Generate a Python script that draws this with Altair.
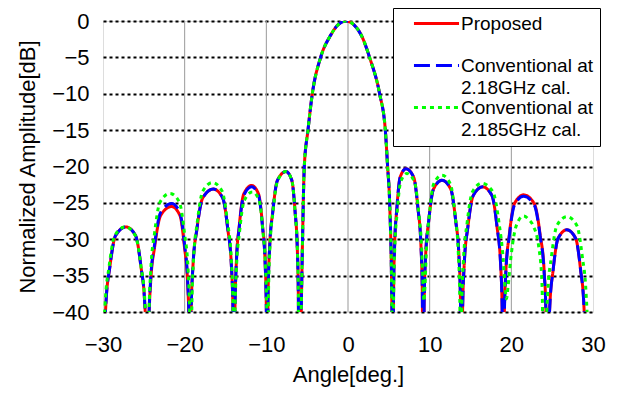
import altair as alt
import pandas as pd

# ---- data ----
series_names = ["Proposed", "Conventional at|2.18GHz cal.", "Conventional at|2.185GHz cal."]
series_colors = ["#FF0000", "#0000FF", "#00FF00"]

# angles shared by "Proposed" and "Conventional at 2.18GHz cal."
angles_a = [
    -30.0, -29.86, -29.64, -29.16, -28.46, -27.2, -26.01, -25.35, -24.89, -24.68,
    -24.55, -24.40, -24.17, -23.67, -22.93, -21.6, -20.59, -20.03, -19.64, -19.46,
    -19.35, -19.21, -18.98, -18.5, -17.78, -16.5, -15.35, -14.72, -14.28, -14.08,
    -13.95, -13.84, -13.67, -13.31, -12.77, -11.8, -10.95, -10.47, -10.15, -10.0,
    -9.9, -9.79, -9.6, -9.21, -8.64, -7.6, -6.88, -6.48, -6.21, -6.08,
    -6.0, -5.8, -5.6, -5.35, -4.9, -4.37, -3.35, -2.15, -1.2, -0.25,
    0.7, 1.65, 2.64, 3.87, 4.57, 4.85, 5.1, 5.38,
    5.5, 5.58, 5.71, 5.98, 6.38, 7.1, 8.05, 8.57, 8.93, 9.1,
    9.2, 9.32, 9.5, 9.89, 10.47, 11.5, 12.58, 13.18, 13.59, 13.78,
    13.9, 14.03, 14.24, 14.68, 15.33, 16.5, 17.63, 18.25, 18.68, 18.88,
    19.0, 19.13, 19.33, 19.75, 20.38, 21.5, 22.81, 23.53, 24.02, 24.26,
    24.4, 24.52, 24.71, 25.12, 25.72, 26.8, 27.88, 28.48, 28.89, 29.08,
    29.2,
]

amp_proposed = [
    -60, -45.3, -38.8, -33.8, -29.5, -28.3, -29.5, -33.8, -38.8, -45.3,
    -60, -42.5, -36.0, -31.0, -26.7, -25.5, -26.7, -31.0, -36.0, -42.5,
    -60, -40.1, -33.6, -28.6, -24.3, -23.1, -24.3, -28.6, -33.6, -40.1,
    -60, -39.6, -33.1, -28.1, -23.8, -22.6, -23.8, -28.1, -33.1, -39.6,
    -60, -37.7, -31.2, -26.2, -21.9, -20.7, -21.9, -26.2, -31.2, -37.7,
    -60, -45, -32, -20, -15, -10, -5, -2, -0.5, 0,
    -0.5, -2, -5, -10, -15, -20, -25, -40,
    -60, -37.3, -30.8, -25.8, -21.5, -20.3, -21.5, -25.8, -30.8, -37.3,
    -60, -38.9, -32.4, -27.4, -23.1, -21.9, -23.1, -27.4, -32.4, -38.9,
    -60, -39.8, -33.3, -28.3, -24.0, -22.8, -24.0, -28.3, -33.3, -39.8,
    -60, -40.9, -34.4, -29.4, -25.1, -23.9, -25.1, -29.4, -34.4, -40.9,
    -60, -45.7, -39.2, -34.2, -29.9, -28.7, -29.9, -34.2, -39.2, -45.7,
    -60,
]

amp_conv_218 = [
    -60, -45.3, -38.8, -33.8, -29.5, -28.3, -29.5, -33.8, -38.8, -45.3,
    -60, -42.1, -35.6, -30.6, -26.3, -25.1, -26.3, -30.6, -35.6, -42.1,
    -60, -40.1, -33.6, -28.6, -24.3, -23.1, -24.3, -28.6, -33.6, -40.1,
    -60, -39.8, -33.3, -28.3, -24.0, -22.8, -24.0, -28.3, -33.3, -39.8,
    -60, -37.7, -31.2, -26.2, -21.9, -20.7, -21.9, -26.2, -31.2, -37.7,
    -60, -45, -32, -20, -15, -10, -5, -2, -0.5, 0,
    -0.5, -2, -5, -10, -15, -20, -25, -40,
    -60, -37.3, -30.8, -25.8, -21.5, -20.3, -21.5, -25.8, -30.8, -37.3,
    -60, -38.9, -32.4, -27.4, -23.1, -21.9, -23.1, -27.4, -32.4, -38.9,
    -60, -39.8, -33.3, -28.3, -24.0, -22.8, -24.0, -28.3, -33.3, -39.8,
    -60, -41.1, -34.6, -29.6, -25.3, -24.1, -25.3, -29.6, -34.6, -41.1,
    -60, -45.7, -39.2, -34.2, -29.9, -28.7, -29.9, -34.2, -39.2, -45.7,
    -60,
]

angles_b = [
    -30.1, -29.96, -29.74, -29.26, -28.56, -27.3, -26.04, -25.34, -24.86, -24.64,
    -24.5, -24.37, -24.15, -23.69, -23.02, -21.8, -20.65, -20.02, -19.58, -19.38,
    -19.25, -19.12, -18.91, -18.46, -17.79, -16.6, -15.41, -14.75, -14.29, -14.08,
    -13.95, -13.84, -13.66, -13.28, -12.71, -11.7, -10.87, -10.41, -10.09, -9.94,
    -9.85, -9.74, -9.56, -9.18, -8.61, -7.6, -6.88, -6.48, -6.21, -6.08,
    -6.0, -5.8, -5.6, -5.35, -4.9, -4.37, -3.35, -2.15, -1.2, -0.25,
    0.7, 1.65, 2.64, 3.87, 4.57, 4.85, 5.1, 5.38,
    5.5, 5.59, 5.72, 6.01, 6.44, 7.2, 8.15, 8.67, 9.03, 9.2,
    9.3, 9.41, 9.59, 9.96, 10.49, 11.5, 12.54, 13.11, 13.5, 13.69,
    13.8, 13.93, 14.14, 14.58, 15.23, 16.4, 17.75, 18.5, 19.01, 19.25,
    19.4, 19.6, 19.9, 20.4, 20.85, 21.5, 22.15, 22.7, 23.35, 23.75,
    24.1, 24.24, 24.45, 24.91, 25.59, 26.8, 28.02, 28.69, 29.15, 29.37,
    29.5,
]

amp_conv_2185 = [
    -60, -45.3, -38.8, -33.8, -29.5, -28.3, -29.5, -33.8, -38.8, -45.3,
    -60, -40.7, -34.2, -29.2, -24.9, -23.7, -24.9, -29.2, -34.2, -40.7,
    -60, -39.2, -32.7, -27.7, -23.4, -22.2, -23.4, -27.7, -32.7, -39.2,
    -60, -40.5, -34.0, -29.0, -24.7, -23.5, -24.7, -29.0, -34.0, -40.5,
    -60, -37.7, -31.2, -26.2, -21.9, -20.7, -21.9, -26.2, -31.2, -37.7,
    -60, -45, -32, -20, -15, -10, -5, -2, -0.5, 0,
    -0.5, -2, -5, -10, -15, -20, -25, -40,
    -60, -37.95, -31.45, -26.45, -22.15, -20.95, -22.15, -26.45, -31.45, -36.5,
    -38.5, -36.8, -31.7, -26.7, -22.4, -21.2, -22.4, -26.7, -31.7, -38.2,
    -60, -39.3, -32.8, -27.8, -23.5, -22.3, -23.5, -27.8, -32.8, -36.8,
    -38.2, -36.5, -33.0, -29.0, -27.5, -26.8, -27.3, -28.2, -31.0, -36.0,
    -60, -43.9, -37.4, -32.4, -28.1, -26.9, -28.1, -32.4, -37.4, -43.9,
    -60,
]

x_ticks = [-30, -20, -10, 0, 10, 20, 30]
y_ticks = [-40, -35, -30, -25, -20, -15, -10, -5, 0]
v_grid = [-20, -10, 0, 10, 20]

# ---- tables ----
df = pd.concat([
    pd.DataFrame({"angle": angles_a, "amp": amp_proposed, "series": series_names[0]}),
    pd.DataFrame({"angle": angles_a, "amp": amp_conv_218, "series": series_names[1]}),
    pd.DataFrame({"angle": angles_b, "amp": amp_conv_2185, "series": series_names[2]}),
], ignore_index=True)
grid_df = pd.DataFrame({"angle": v_grid})

FONT = "Liberation Sans"
AXIS_FS = 22
NBSP2 = "\u00a0\u00a0"

legend = alt.Legend(
    orient="none", legendX=290, legendY=-13, title=None,
    symbolType="M-4,0L4,0", symbolSize=127, symbolStrokeWidth=3,
    symbolOffset=28, labelOffset=15,
    labelFont=FONT, labelFontSize=19, labelColor="black",
    labelExpr=("datum.label == 'Proposed' ? ['Proposed', ''] : "
               "[split(datum.label, '|')[0] + '" + NBSP2 + "', split(datum.label, '|')[1]]"),
    strokeColor="black", fillColor="white", padding=6, rowPadding=-2,
    labelLimit=0,
)

x_scale = alt.Scale(domain=[-30, 30], nice=False, zero=False)
y_scale = alt.Scale(domain=[-40, 0], nice=False, zero=False)

color_enc = alt.Color("series:N", scale=alt.Scale(domain=series_names, range=series_colors), legend=legend)
dash_enc = alt.StrokeDash("series:N",
                          scale=alt.Scale(domain=series_names, range=[[1, 0], [16, 6], [4, 4]]),
                          legend=legend)

x_enc = alt.X("angle:Q", scale=x_scale, axis=alt.Axis(
    values=x_ticks, grid=False, ticks=False, domain=False, title="Angle[deg.]",
    labelFlush=False, labelOverlap=False,
    labelFont=FONT, labelFontSize=AXIS_FS, labelColor="black", labelPadding=22,
    titleFont=FONT, titleFontSize=AXIS_FS, titleFontWeight="normal", titleColor="black", titlePadding=9,
))
y_enc = alt.Y("amp:Q", scale=y_scale, axis=alt.Axis(
    values=y_ticks, grid=True, gridColor="black", gridDash=[3, 3], gridWidth=2, gridOpacity=1,
    ticks=False, domain=False, title="Normalized Amplitude[dB]", labelOverlap=False,
    labelFont=FONT, labelFontSize=AXIS_FS, labelColor="black", labelPadding=14,
    titleFont=FONT, titleFontSize=AXIS_FS, titleFontWeight="normal", titleColor="black", titlePadding=12,
))

vgrid = alt.Chart(grid_df).mark_rule(color="#999999", strokeWidth=1).encode(
    x=alt.X("angle:Q", scale=x_scale)
)

layers = [vgrid]
for name in series_names:
    layers.append(
        alt.Chart(df).transform_filter(alt.datum.series == name)
        .mark_line(clip=True, interpolate="monotone", strokeWidth=3)
        .encode(x=x_enc, y=y_enc, color=color_enc, strokeDash=dash_enc)
    )

chart = alt.layer(*layers).properties(
    width=490, height=291,
    autosize=alt.AutoSizeParams(type="none"),
    padding={"left": 95, "top": 13, "right": 18, "bottom": 76},
).configure_view(stroke="black", strokeWidth=1.5).configure(
    background="white",
    style={"guide-label": {"lineHeight": 22}},
)

chart.save("out.html", embed_options={"renderer": "svg", "actions": False})
